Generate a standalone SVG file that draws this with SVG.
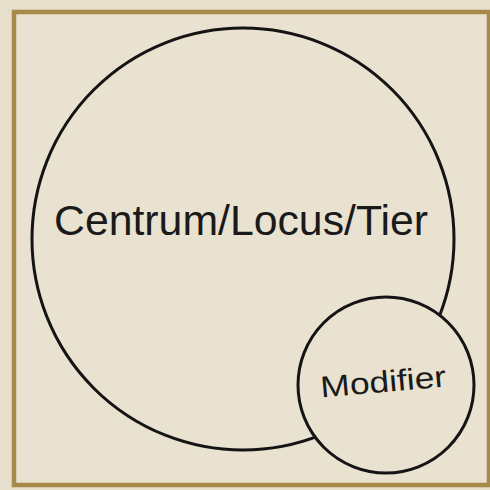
<svg xmlns="http://www.w3.org/2000/svg" width="490" height="490" viewBox="0 0 490 490">
  <style>
    .node { fill: #e9e2d0; stroke: #141414; stroke-width: 3; }
    .label { font-family: "Liberation Sans", "DejaVu Sans", sans-serif; fill: #1a1a1a; text-anchor: middle; }
  </style>
  <rect x="0" y="0" width="490" height="490" fill="#e6dfcc"/>
  <rect x="14" y="12" width="475" height="473" fill="#e9e2d0" stroke="#a8894a" stroke-width="4.5"/>
  <g id="connectors"></g>
  <g id="centrum">
    <circle class="node" cx="243" cy="239" r="211"/>
    <text class="label" x="241" y="235" font-size="42" textLength="374" lengthAdjust="spacingAndGlyphs">Centrum/Locus/Tier</text>
  </g>
  <g id="modifier">
    <circle class="node" cx="386" cy="385" r="88"/>
    <text class="label" x="383" y="392" font-size="30" transform="rotate(-5 383 380)" textLength="126" lengthAdjust="spacingAndGlyphs">Modifier</text>
  </g>
</svg>
